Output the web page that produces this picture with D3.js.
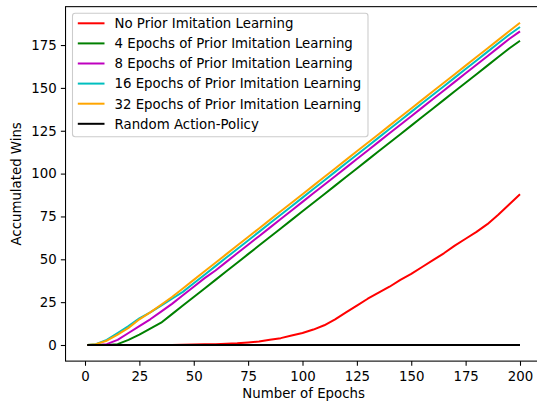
<!DOCTYPE html>
<html>
<head>
<meta charset="utf-8">
<script src="https://cdn.jsdelivr.net/npm/d3@7"></script>
<style>
  html, body { margin: 0; padding: 0; background: #fff; }
  svg { display: block; }
  text { font-family: "DejaVu Sans", sans-serif; fill: #000; }
</style>
</head>
<body>
<svg id="chart" width="537" height="401"></svg>
<script>
// ---------- data ----------
const epochs = [1,5,10,15,20,25,30,35,40,45,50,55,60,65,70,75,80,85,90,95,100,105,110,115,120,125,130,135,140,145,150,155,160,165,170,175,180,185,190,195,200];

const noPrior   = [0,0,0,0,0,0,0,0,0,0.2,0.3,0.5,0.5,0.8,1,1.5,2,3,4,5.5,7,9,11.5,15,19,23,27,30.5,34,38,41.5,45.5,49.5,53.5,58,62,66,70.5,76,82,88];
const prior4    = [0,0,0,0.5,3,6,9.5,13,18,23,28,33,38,43,48,53,58,63,68,73,78,83,88,93,98,103,108,113,118,123,128,133,138,143,148,153,158,163,168,173,177.5];
const prior8    = [0,0,0.5,3,7,11,15,19.5,24,29,34,39,43.5,48.5,53.5,58.5,63.5,68.5,73.5,78.5,83.5,88.5,93.5,98.5,103.5,108.5,113.5,118.5,123.5,128.5,133.5,138.5,143.5,148.5,153.5,158.5,163.5,168.5,173.5,178.5,183];
const prior16   = [0,0.5,3,7,11,15.5,19,23,27,31,36,41,46,51,56,61,66,71,76,81,86,91,96,101,106,111,116,121,126,131,136,141,146,151,156,161,166,171,176,181,185.5];
const prior32   = [0,0.5,2.5,6,10,15,19,23.5,28,33,38,43,48,53,58,63,68,73,78,83,88,93,98,103,108,113,118,123,128,133,138,143,148,153,158,163,168,173,178,183,188];
const randomPol = [0,0,0,0,0,0,0,0,0,0,0,0,0,0,0,0,0,0,0,0,0,0,0,0,0,0,0,0,0,0,0,0,0,0,0,0,0,0,0,0,0];

const seriesNames  = ["No Prior Imitation Learning","4 Epochs of Prior Imitation Learning","8 Epochs of Prior Imitation Learning","16 Epochs of Prior Imitation Learning","32 Epochs of Prior Imitation Learning","Random Action-Policy"];
const seriesValues = [noPrior, prior4, prior8, prior16, prior32, randomPol];
const seriesColors = ["#ff0000","#008000","#bf00bf","#00bfbf","#ffa500","#000000"];

const xTicks = [0,25,50,75,100,125,150,175,200];
const yTicks = [0,25,50,75,100,125,150,175];

// ---------- layout ----------
const svg = d3.select("#chart");
const kx = 2.175, x0px = 85;
const x = d3.scaleLinear().domain([-8.95, 209.95]).range([x0px - 8.95*kx, x0px + 209.95*kx]);
const ky = 1.714, y0px = 345;
const y = d3.scaleLinear().domain([-9.4, 197.4]).range([y0px + 9.4*ky, y0px - 197.4*ky]);

const L = x.range()[0], R = x.range()[1], B = y.range()[0], T = y.range()[1];
const fs = 13.33;

// lines
const line = d3.line().x((d,i) => x(epochs[i])).y(d => y(d));
const clip = svg.append("clipPath").attr("id","clip").append("rect")
  .attr("x", L).attr("y", T).attr("width", R-L).attr("height", B-T);
const g = svg.append("g").attr("clip-path","url(#clip)");
seriesValues.forEach((vals, i) => {
  g.append("path").datum(vals)
    .attr("d", line)
    .attr("fill","none")
    .attr("stroke", seriesColors[i])
    .attr("stroke-width", 2)
    .attr("stroke-linejoin","round")
    .attr("stroke-linecap","butt");
});

// axes
const xAxis = d3.axisBottom(x).tickValues(xTicks).tickSize(4.67).tickPadding(6).tickSizeOuter(0);
const yAxis = d3.axisLeft(y).tickValues(yTicks).tickSize(4.67).tickPadding(4.2).tickSizeOuter(0);
const gx = svg.append("g").attr("transform", `translate(0,${B})`).call(xAxis);
const gy = svg.append("g").attr("transform", `translate(${L},0)`).call(yAxis);
[gx, gy].forEach(a => {
  a.select(".domain").remove();
  a.selectAll(".tick line").attr("stroke","#000").attr("stroke-width",1.07);
  a.selectAll(".tick text").attr("font-family","DejaVu Sans").attr("font-size", fs).attr("fill","#000");
});

// spines
svg.append("rect").attr("x", L).attr("y", T).attr("width", R-L).attr("height", B-T)
  .attr("fill","none").attr("stroke","#000").attr("stroke-width",1.07);

// axis labels
svg.append("text").attr("x", (L+R)/2).attr("y", 397.5).attr("text-anchor","middle")
  .attr("font-size", fs).text("Number of Epochs");
svg.append("text").attr("transform", `translate(21,${(T+B)/2}) rotate(-90)`)
  .attr("text-anchor","middle").attr("font-size", fs).text("Accumulated Wins");

// legend
const lg = svg.append("g");
const lx = 72.5, ly = 13.3, lw = 295.5, lh = 123.5;
lg.append("rect").attr("x", lx).attr("y", ly).attr("width", lw).attr("height", lh)
  .attr("rx", 2.7).attr("fill","#fff").attr("fill-opacity",0.8)
  .attr("stroke","#cccccc").attr("stroke-width",1.07);
seriesNames.forEach((name, i) => {
  const cy = ly + 10 + i*20.1;
  lg.append("line").attr("x1", lx + 5.3).attr("x2", lx + 32).attr("y1", cy).attr("y2", cy)
    .attr("stroke", seriesColors[i]).attr("stroke-width", 2);
  lg.append("text").attr("x", lx + 42).attr("y", cy + 4.8).attr("font-size", fs).text(name);
});
</script>
</body>
</html>
